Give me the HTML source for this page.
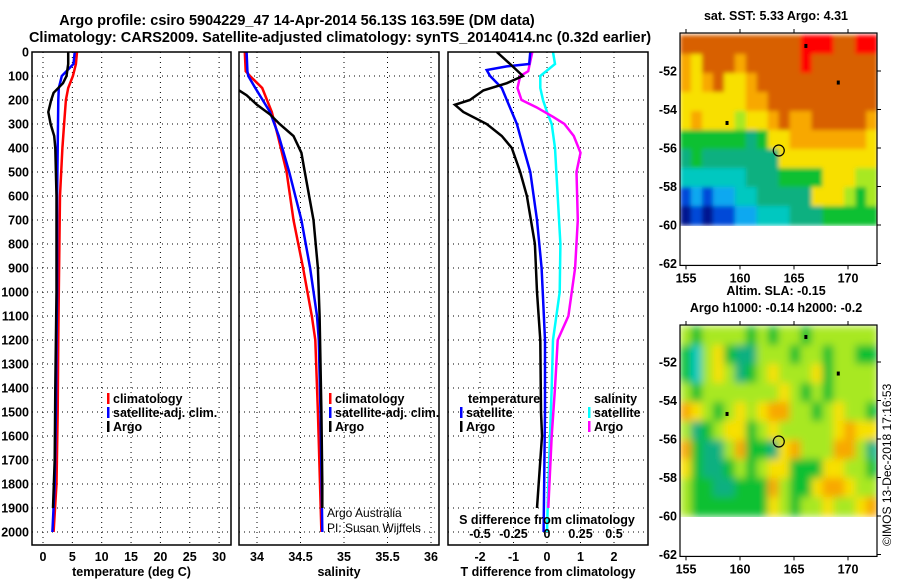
<!DOCTYPE html>
<html><head><meta charset="utf-8"><style>
html,body{margin:0;padding:0;background:#fff;}
svg{display:block;font-family:"Liberation Sans",sans-serif;}
.b{font-weight:bold;font-size:12.5px;}
.t{font-weight:bold;font-size:14.5px;}
.n{font-size:12px;}
</style></head><body>
<svg id="fig" width="900" height="580" viewBox="0 0 900 580">
<defs>
<clipPath id="c1"><rect x="32" y="52" width="199" height="493"/></clipPath>
<clipPath id="c2"><rect x="239" y="52" width="200" height="493"/></clipPath>
<clipPath id="c3"><rect x="448" y="52" width="200" height="493"/></clipPath>
<clipPath id="mc1"><rect x="680" y="33" width="197" height="193"/></clipPath>
<clipPath id="mc2"><rect x="680" y="325" width="197" height="192"/></clipPath>
<filter id="bl1" x="-5%" y="-5%" width="110%" height="110%"><feGaussianBlur stdDeviation="2" edgeMode="duplicate"/></filter>
<filter id="bl2" x="-5%" y="-5%" width="110%" height="110%"><feGaussianBlur stdDeviation="4" edgeMode="duplicate"/></filter>
</defs>
<text class="t" x="297" y="25" text-anchor="middle">Argo profile: csiro 5904229_47 14-Apr-2014 56.13S 163.59E (DM data)</text>
<text class="t" x="340" y="42" text-anchor="middle">Climatology: CARS2009. Satellite-adjusted climatology: synTS_20140414.nc (0.32d earlier)</text>
<g id="grids"></g>
<g id="lines"></g>
<g id="axes"></g>
<g clip-path="url(#mc1)"><g id="map1cells" filter="url(#bl1)"></g></g>
<g clip-path="url(#mc2)"><g id="map2cells" filter="url(#bl2)"></g></g>
<g id="maps"></g>
</svg>
<script>
// ---- profile data ----
const tempDepth = [0,50,100,150,200,300,400,500,600,800,1000,1200,1500,1800,2000];
const tempClim  = [5.8,5.6,5.1,4.3,3.9,3.6,3.3,3.1,2.9,2.8,2.7,2.6,2.5,2.3,1.8];
const tempSat   = [5.4,5.2,3.2,2.7,2.6,2.55,2.5,2.45,2.4,2.4,2.4,2.3,2.2,2.0,1.6];
const argoTDepth = [0,50,100,130,170,200,250,300,350,400,600,1000,1400,1700,1900];
const argoTemp   = [4.3,4.3,4.0,3.4,1.8,1.4,0.9,1.3,1.9,2.1,2.3,2.3,2.1,2.0,1.7];
const salDepth = [0,80,100,150,250,350,500,700,900,1100,1200,1500,2000];
const salClim  = [33.86,33.87,33.92,34.06,34.17,34.24,34.34,34.42,34.53,34.63,34.67,34.70,34.74];
const salSat   = [33.88,33.89,33.90,33.98,34.15,34.25,34.37,34.51,34.61,34.69,34.71,34.73,34.75];
const argoSDepth = [150,180,220,260,300,350,420,500,700,900,1100,1500,1800,1900];
const argoSal    = [33.75,33.88,34.0,34.15,34.26,34.42,34.51,34.55,34.65,34.70,34.72,34.74,34.75,34.75];
const dTDepth = [0,50,100,130,160,200,220,250,300,350,400,500,600,800,1000,1200,1500,1600,1900];
const dTArgo  = [-1.5,-1.1,-0.72,-1.2,-1.9,-2.3,-2.75,-2.5,-1.8,-1.35,-1.05,-0.8,-0.6,-0.36,-0.3,-0.2,-0.18,-0.15,-0.3];
const dTSatDepth = [0,50,60,75,100,150,200,300,400,500,700,900,1200,1500,2000];
const dTSat   = [-0.5,-0.53,-1.2,-1.8,-1.7,-1.35,-1.2,-0.9,-0.7,-0.5,-0.3,-0.16,-0.06,-0.06,-0.1];
const dSDepth = [0,80,100,150,200,230,270,300,350,420,500,700,900,1100,1200,1400,1600,1900];
const dSArgo  = [-0.11,-0.14,-0.2,-0.22,-0.19,-0.08,0.045,0.13,0.2,0.25,0.22,0.23,0.21,0.16,0.08,0.06,0.035,0.01];
const dSSatDepth = [0,50,100,150,200,250,300,400,600,800,1000,1200,1400,1800,2000];
const dSSat   = [0.045,0.06,-0.05,-0.05,-0.03,0,0.035,0.06,0.08,0.1,0.095,0.045,0.035,0.01,0.0];
const depthTicks = [0,100,200,300,400,500,600,700,800,900,1000,1100,1200,1300,1400,1500,1600,1700,1800,1900,2000];
const tTicks = [0,5,10,15,20,25,30];
const sTicks = [34,34.5,35,35.5,36];
const dTicks = [-2,-1,0,1,2];
const dsTicks = [-0.5,-0.25,0,0.25,0.5];
const dsTickLabels = ["-0.5","-0.25","0","0.25","0.5"];
// ---- map data (values 0..10 colour index) ----
const sstRows = [
[9,9,9,9,9,9,9,9,9,9,9,10,10,10,9,9,10,10],
[8,7,9,9,9,8,9,9,9,9,9,10,9,9,9,9,9,9],
[8,7,8,9,7,7,8,9,9,9,9,9,9,9,9,9,9,9],
[7,7,7,7,7,7,8,8,9,9,9,9,9,9,9,9,9,9],
[7,8,7,7,7,6,7,7,8,9,8,8,9,9,9,9,9,8],
[5,5,5,5,5,5,4,5,7,7,8,8,8,8,8,8,8,7],
[4,5,4,4,4,4,4,4,4,7,7,7,7,7,7,7,7,7],
[3,3,3,3,3,3,4,4,4,5,5,5,5,7,7,7,6,6],
[1,2,1,2,2,3,3,4,4,4,4,4,7,7,7,6,5,6],
[0,1,0,1,1,2,2,3,3,3,4,4,4,5,5,5,5,5]];
const slaRows = [
[6,5,6,6,6,6,5,6,5,6,6,5,6,6,6,6,6,6],
[5,3,6,7,5,4,4,6,6,6,5,6,6,5,6,6,5,5],
[5,3,6,7,6,4,5,6,7,6,6,6,7,5,6,6,6,6],
[6,5,6,6,6,6,6,6,6,7,6,5,6,5,6,6,6,6],
[8,7,6,5,6,7,6,7,8,8,6,6,5,6,7,6,6,5],
[6,4,5,6,7,7,5,6,7,6,6,6,6,6,7,8,7,7],
[8,5,4,4,6,8,5,5,4,7,8,6,6,6,8,8,6,4],
[7,5,4,4,5,6,5,6,7,7,5,5,5,7,7,6,6,5],
[6,5,5,4,4,5,5,5,8,6,5,5,7,8,8,7,6,6],
[6,5,5,5,5,5,5,5,7,6,5,6,6,7,6,6,7,8]];
const lonTicks = [155,160,165,170];
const latTicks = [-52,-54,-56,-58,-60,-62];
const floatPos = [163.59,-56.13];

const palette = ["#001890","#0048d8","#10a8f0","#00c8c0","#10b080","#10c030","#a8e820","#f8e000","#f8a800","#d86000","#ff0000"];
const NS = "http://www.w3.org/2000/svg";
function mk(tag, attrs, parent){const e=document.createElementNS(NS,tag);for(const k in attrs)e.setAttribute(k,attrs[k]);parent.appendChild(e);return e;}
const yD = d => 52 + d*0.24;
const xT = v => 43 + v*5.87;
const xS = v => 257 + (v-34)*87;
const xD = v => 547 + v*33.5;
const xDS = v => 547 + v*134;
const G = document.getElementById('grids'), L = document.getElementById('lines'), A = document.getElementById('axes'), M = document.getElementById('maps');

const panels = [
 {x0:32,x1:231,ticks:tTicks,fx:xT,labels:tTicks.map(String),title:"temperature (deg C)",clip:"c1",name:"temperature"},
 {x0:239,x1:439,ticks:sTicks,fx:xS,labels:sTicks.map(String),title:"salinity",clip:"c2",name:"salinity"},
 {x0:448,x1:648,ticks:dTicks,fx:xD,labels:dTicks.map(String),title:"T difference from climatology",clip:"c3",name:"difference"}];
panels.forEach(p=>{
  p.ticks.forEach(t=>{
    const l=mk('line',{x1:p.fx(t),x2:p.fx(t),y1:52,y2:545,stroke:'#000','stroke-width':1,'stroke-dasharray':'1,4'},G);
    
    
    const tx=mk('text',{x:p.fx(t),y:561,'text-anchor':'middle',class:'b'},A);
    tx.textContent=p.labels[p.ticks.indexOf(t)];
    
    
  });
  depthTicks.forEach(d=>{
    const l=mk('line',{x1:p.x0,x2:p.x1,y1:yD(d),y2:yD(d),stroke:'#000','stroke-width':1,'stroke-dasharray':'1,4'},G);
    
    
  });
  const r=mk('rect',{x:p.x0,y:52,width:p.x1-p.x0,height:493,fill:'none',stroke:'#000','stroke-width':1.5},A);
  
  
  const tt=mk('text',{x:(p.x0+p.x1)/2,y:576,'text-anchor':'middle',class:'b'},A);
  tt.textContent=p.title;
  
  
});
depthTicks.forEach(d=>{
  const tx=mk('text',{x:29,y:yD(d)+4.5,'text-anchor':'end',class:'b'},A);
  tx.textContent=String(d);
  
  
});
dsTicks.forEach((t,i)=>{
  const tx=mk('text',{x:xDS(t),y:538,'text-anchor':'middle',class:'b'},A);
  tx.textContent=dsTickLabels[i];
  
  
});
function series(vals, depths, fx, color, clip, name){
  const pts = vals.map((v,i)=>fx(v).toFixed(1)+','+yD(depths[i]).toFixed(1)).join(' ');
  const pl=mk('polyline',{points:pts,fill:'none',stroke:color,'stroke-width':2.5,'clip-path':'url(#'+clip+')'},L);
  
  
}
series(tempClim,tempDepth,xT,'#f00','c1','temperature-climatology-line');
series(tempSat,tempDepth,xT,'#00f','c1','temperature-satellite-line');
series(argoTemp,argoTDepth,xT,'#000','c1','temperature-argo-line');
series(salClim,salDepth,xS,'#f00','c2','salinity-climatology-line');
series(salSat,salDepth,xS,'#00f','c2','salinity-satellite-line');
series(argoSal,argoSDepth,xS,'#000','c2','salinity-argo-line');
series(dSSat,dSSatDepth,xDS,'#00ffff','c3','s-diff-satellite-line');
series(dSArgo,dSDepth,xDS,'#ff00ff','c3','s-diff-argo-line');
series(dTSat,dTSatDepth,xD,'#00f','c3','t-diff-satellite-line');
series(dTArgo,dTDepth,xD,'#000','c3','t-diff-argo-line');

// legends
function leg(x,y,color,text,name){
  if(color){const m=mk('rect',{x:x,y:y-10,width:2.5,height:11,fill:color},A);
    
    }
  const t=mk('text',{x:x+6,y:y,class:'b'},A);t.textContent=text;
  
  
}
leg(107,403,'#f00','climatology','legend-temp-climatology');
leg(107,417,'#00f','satellite-adj. clim.','legend-temp-satellite');
leg(107,431,'#000','Argo','legend-temp-argo');
leg(329,403,'#f00','climatology','legend-sal-climatology');
leg(329,417,'#00f','satellite-adj. clim.','legend-sal-satellite');
leg(329,431,'#000','Argo','legend-sal-argo');
leg(462,403,null,'temperature','legend-temperature-heading');
leg(460,417,'#00f','satellite','legend-t-satellite');
leg(460,431,'#000','Argo','legend-t-argo');
leg(588,403,null,'salinity','legend-salinity-heading');
leg(588,417,'#00ffff','satellite','legend-s-satellite');
leg(588,431,'#ff00ff','Argo','legend-s-argo');
{const t=mk('text',{x:547,y:524,'text-anchor':'middle',class:'b'},A);t.textContent='S difference from climatology';

}
{const t=mk('text',{x:327,y:517,class:'n'},A);t.textContent='Argo Australia';

}
{const t=mk('text',{x:327,y:532,class:'n'},A);t.textContent='PI: Susan Wijffels';

}

// maps
function drawMap(rows, top, lat52y, title1, title2, name, cellGroup){
  const lonX = lon => 686 + (lon-155)*10.8;
  const latY = lat => lat52y + (-52-lat)*19.25;
  const lon0=154.45, dlon=(172.7-154.45)/18, lat0=-50.13, dlat=(60-50.13)/10;
  const CG = document.getElementById(cellGroup);
  rows.forEach((row,j)=>row.forEach((v,i)=>{
    const xa=lonX(lon0+i*dlon), xb=lonX(lon0+(i+1)*dlon);
    const ya=latY(lat0-j*dlat), yb=latY(lat0-(j+1)*dlat);
    const r=mk('rect',{x:xa.toFixed(1),y:ya.toFixed(1),width:(xb-xa+0.6).toFixed(1),height:(yb-ya+0.6).toFixed(1),fill:palette[v]},CG);
    
    
  }));
  const fr=mk('rect',{x:680,y:top,width:197,height:latY(-62.1)-top,fill:'none',stroke:'#000','stroke-width':1.2},M);
  
  
  lonTicks.forEach(lo=>{
    mk('line',{x1:lonX(lo),x2:lonX(lo),y1:top,y2:top-4,stroke:'#000'},M);
    mk('line',{x1:lonX(lo),x2:lonX(lo),y1:latY(-62.1),y2:latY(-62.1)+4,stroke:'#000'},M);
    const t=mk('text',{x:lonX(lo),y:latY(-62.1)+17,'text-anchor':'middle',class:'b'},M);t.textContent=String(lo);
    
    
  });
  latTicks.forEach(la=>{
    mk('line',{x1:877,x2:881,y1:latY(la),y2:latY(la),stroke:'#000'},M);
    const t=mk('text',{x:677,y:latY(la)+4.5,'text-anchor':'end',class:'b'},M);t.textContent=String(la);
    
    
  });
  const c=mk('circle',{cx:lonX(floatPos[0]),cy:latY(floatPos[1]),r:5.5,fill:'none',stroke:'#000','stroke-width':1.2},M);
  
  
  [[166.1,-50.7],[169.1,-52.6],[158.8,-54.7]].forEach(p=>{
    mk('rect',{x:lonX(p[0])-1.5,y:latY(p[1])-2,width:3,height:4,fill:'#000'},M);
  });
  const t1=mk('text',{x:776,y:top-(title2?30:13),'text-anchor':'middle',class:'b'},M);t1.textContent=title1;
  
  
  if(title2){const t2=mk('text',{x:776,y:top-13,'text-anchor':'middle',class:'b'},M);t2.textContent=title2;
    
    }
}
drawMap(sstRows,33,71,'sat. SST: 5.33 Argo: 4.31',null,'sst-map','map1cells');
drawMap(slaRows,325,362,'Altim. SLA: -0.15','Argo h1000: -0.14 h2000: -0.2','sla-map','map2cells');
{const t=mk('text',{x:0,y:0,class:'n',transform:'translate(891,546) rotate(-90)'},M);t.textContent='©IMOS 13-Dec-2018 17:16:53';

}
</script>
</body></html>
